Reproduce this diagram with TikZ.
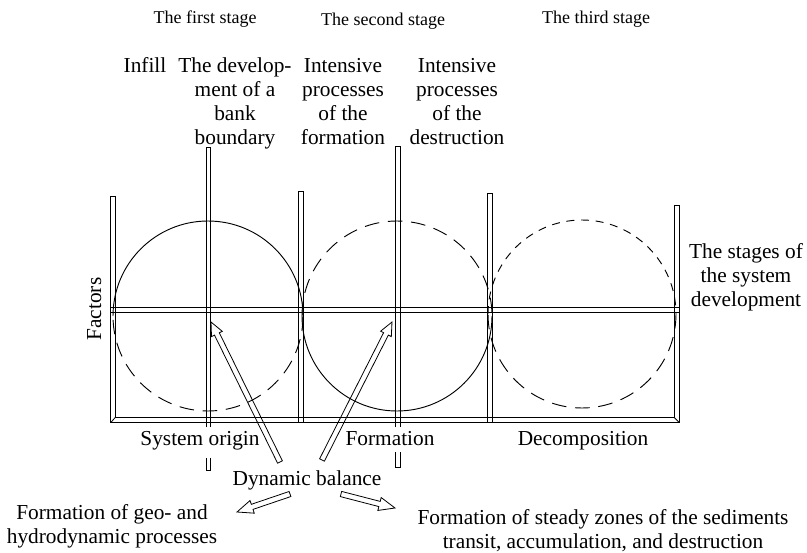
\documentclass[tikz,border=0pt]{standalone}
\usepackage{fontspec}
\setmainfont{Liberation Serif}
\usetikzlibrary{calc}
% hollow block arrow: #1 tail, #2 tip, #3 shaft half width, #4 head half width, #5 head length
\newcommand\hollowarrow[5]{%
  \path ($(#2)!#5!(#1)$) coordinate (hh);
  \draw[arrowline] ($(#1)!#3!90:(#2)$) -- ($(hh)!#3!-90:(#1)$) -- ($(hh)!#4!-90:(#1)$) -- (#2)
    -- ($(hh)!#4!90:(#1)$) -- ($(hh)!#3!90:(#1)$) -- ($(#1)!#3!-90:(#2)$) -- cycle;}
\begin{document}
\begin{tikzpicture}[x=0.75pt,y=-0.75pt,line width=0.6pt,
  lbl/.style={font=\fontsize{16}{18}\selectfont, inner sep=0pt, align=center, anchor=base},
  ttl/.style={font=\fontsize{13.5}{16}\selectfont, inner sep=0pt, anchor=base},
  barline/.style={line width=0.6pt},
  circ/.style={line width=0.7pt},
  longdash/.style={circ, dash pattern=on 11pt off 6.5pt},
  shortdash/.style={circ, dash pattern=on 6pt off 5pt},
  arrowline/.style={line width=0.6pt, line join=miter}]
\useasboundingbox (0,0) rectangle (807,553);

% titles
\node[ttl] (s1) at (205,23) {The first stage};
\node[ttl] (s2) at (383,25) {The second stage};
\node[ttl] (s3) at (596,23) {The third stage};

% column labels (anchor = baseline of last line)
\node[lbl] (c1) at (145,72) {Infill};
\node[lbl] (c2) at (235,144) {The develop-\\ment of a\\bank\\boundary};
\node[lbl] (c3) at (343,144) {Intensive\\processes\\of the\\formation};
\node[lbl] (c4) at (457,144) {Intensive\\processes\\of the\\destruction};

\node[lbl] (stg) at (746,306) {The stages of\\the system\\development};
\node[lbl, rotate=90] (fac) at (101,309) {Factors};

% circles
\draw[circ] (208,316) ++(180:95) arc[start angle=180, end angle=360, radius=95];
\draw[longdash] (208,316) ++(0:95) arc[start angle=0, end angle=180, radius=95];
\draw[longdash] (397,316) ++(180:95) arc[start angle=180, end angle=360, radius=95];
\draw[circ] (397,316) ++(0:95) arc[start angle=0, end angle=180, radius=95];
\draw[shortdash] (582,314) ++(180:94) arc[start angle=180, end angle=360, radius=94];
\draw[longdash] (582,314) ++(0:94) arc[start angle=0, end angle=180, radius=94];

% frame (U shape, double line, mitred corners)
\draw[barline] (110.7,196) -- (110.7,422.7) -- (679.5,422.7) -- (679.5,205);
\draw[barline] (115,196) -- (115,417.7) -- (674.5,417.7) -- (674.5,205);
\draw[barline] (110.7,196) -- (115,196);
\draw[barline] (674.5,205) -- (679.5,205);
\draw[barline] (110.7,422.7) -- (115,417.7);
\draw[barline] (679.5,422.7) -- (674.5,417.7);

% axis
\draw[barline] (110.7,307.7) -- (679.5,307.7);
\draw[barline] (110.7,312.5) -- (679.5,312.5);

% inner bars
\draw[barline] (206,427) -- (206,147) -- (210,147) -- (210,427);
\draw[barline] (206,458) -- (206,470) -- (210,470) -- (210,458);
\draw[barline] (298.5,422.7) -- (298.5,191) -- (303,191) -- (303,422.7);
\draw[barline] (395.5,427) -- (395.5,146) -- (400,146) -- (400,427);
\draw[barline] (395.5,452) -- (395.5,467) -- (400,467) -- (400,452);
\draw[barline] (487,422.7) -- (487,193) -- (492,193) -- (492,422.7);

% bottom labels
\node[lbl] (so) at (200,445) {System origin};
\node[lbl] (fo) at (390,445) {Formation};
\node[lbl] (de) at (583,445) {Decomposition};
\node[lbl] (db) at (307,485) {Dynamic balance};
\node[lbl] (geo) at (112,543) {Formation of geo- and\\hydrodynamic processes};
\node[lbl] (zon) at (603,548) {Formation of steady zones of the sediments\\transit, accumulation, and destruction};

% arrows
\coordinate (aT) at (280,462); \coordinate (aH) at (211,322);
\coordinate (bT) at (322,460); \coordinate (bH) at (392,322);
\coordinate (cT) at (290,494); \coordinate (cH) at (237,512);
\coordinate (dT) at (341,494); \coordinate (dH) at (395,508);
\hollowarrow{aT}{aH}{2pt}{4.5pt}{10pt}
\hollowarrow{bT}{bH}{2pt}{4.5pt}{10pt}
\hollowarrow{cT}{cH}{2pt}{5pt}{12pt}
\hollowarrow{dT}{dH}{2pt}{5pt}{12pt}
\end{tikzpicture}
\end{document}
